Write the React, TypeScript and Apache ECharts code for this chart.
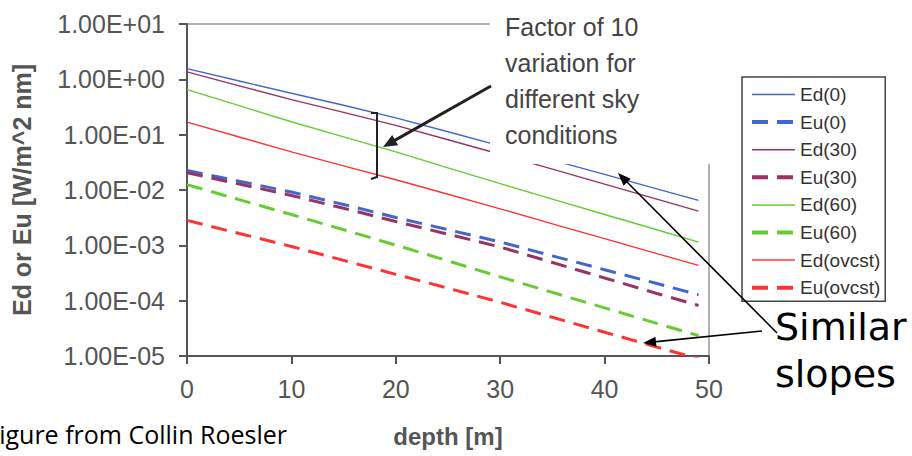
import React, { useEffect, useRef } from "react";
import * as echarts from "echarts";

const depths = [0, 5, 10, 15, 20, 25, 30, 35, 40, 45, 49];
const ed0 = [1.56, 0.935, 0.561, 0.34, 0.201, 0.113, 0.0628, 0.0346, 0.0191, 0.0105, 0.00649];
const eu0 = [0.0226, 0.0144, 0.0092, 0.00547, 0.00319, 0.00192, 0.00115, 0.000646, 0.000363, 0.000204, 0.000128];
const ed30 = [1.36, 0.762, 0.429, 0.253, 0.147, 0.0809, 0.0443, 0.0238, 0.0128, 0.00686, 0.00416];
const eu30 = [0.0205, 0.0128, 0.00798, 0.00467, 0.0027, 0.00159, 0.000933, 0.00049, 0.000257, 0.000135, 0.0000818];
const ed60 = [0.652, 0.334, 0.171, 0.0912, 0.0489, 0.0251, 0.013, 0.00686, 0.00361, 0.00191, 0.00114];
const eu60 = [0.0125, 0.0067, 0.0036, 0.00191, 0.00101, 0.000524, 0.000269, 0.000141, 0.0000741, 0.0000389, 0.0000234];
const edOv = [0.169, 0.0908, 0.0488, 0.0273, 0.0153, 0.00837, 0.00457, 0.00245, 0.00132, 0.000708, 0.000434];
const euOv = [0.00282, 0.00164, 0.000955, 0.000535, 0.000299, 0.000168, 0.0000933, 0.0000501, 0.0000269, 0.0000145, 0.0000089];

const seriesNames = ["Ed(0)", "Eu(0)", "Ed(30)", "Eu(30)", "Ed(60)", "Eu(60)", "Ed(ovcst)", "Eu(ovcst)"];
const seriesValues = [ed0, eu0, ed30, eu30, ed60, eu60, edOv, euOv];
const seriesColors = ["#4466cc", "#4466cc", "#993366", "#993366", "#66cc33", "#66cc33", "#ff3333", "#ff3333"];
const seriesDashed = [false, true, false, true, false, true, false, true];

const yTickLabels = ["1.00E-05", "1.00E-04", "1.00E-03", "1.00E-02", "1.00E-01", "1.00E+00", "1.00E+01"];
const xTicks = [0, 10, 20, 30, 40, 50];

const FONT = "'Liberation Sans', Arial, sans-serif";

function arrow(x1: number, y1: number, x2: number, y2: number, len: number, wid: number, lw: number, color: string) {
  const dx = x2 - x1;
  const dy = y2 - y1;
  const d = Math.sqrt(dx * dx + dy * dy);
  const ux = dx / d;
  const uy = dy / d;
  const bx = x2 - ux * len;
  const by = y2 - uy * len;
  const nx = -uy;
  const ny = ux;
  return [
    {
      type: "line",
      z: 60,
      shape: { x1, y1, x2: bx + ux * 2, y2: by + uy * 2 },
      style: { stroke: color, lineWidth: lw },
    },
    {
      type: "polygon",
      z: 60,
      shape: {
        points: [
          [x2, y2],
          [bx + (nx * wid) / 2, by + (ny * wid) / 2],
          [bx - (nx * wid) / 2, by - (ny * wid) / 2],
        ],
      },
      style: { fill: color },
    },
  ];
}

export default function App() {
  const ref = useRef<HTMLDivElement>(null);
  useEffect(() => {
    document.body.style.margin = "0";
    if (!ref.current) return;
    const chart = echarts.init(ref.current, undefined, { renderer: "svg" });
    const series = seriesNames.map((name, i) => ({
      name,
      type: "line",
      symbol: "none",
      data: depths.map((d, j) => [d, seriesValues[i][j]]),
      lineStyle: {
        color: seriesColors[i],
        width: seriesDashed[i] ? 3 : 1.4,
        type: seriesDashed[i] ? [16, 9] : "solid",
      },
      itemStyle: { color: seriesColors[i] },
      z: 2,
    }));
    const option = {
      animation: false,
      backgroundColor: "#ffffff",
      grid: {
        left: 187,
        right: 203,
        top: 24,
        bottom: 100,
        show: true,
        borderColor: "#999999",
        borderWidth: 1.5,
        backgroundColor: "transparent",
      },
      legend: {
        orient: "vertical",
        left: 742,
        top: 77,
        itemWidth: 43,
        itemHeight: 14,
        itemGap: 8.6,
        padding: [8, 5, 4, 8],
        borderColor: "#444444",
        borderWidth: 1.5,
        itemStyle: { opacity: 0 },
        textStyle: { fontSize: 19, color: "#333333", fontFamily: FONT },
        data: seriesNames.map((n, i) => ({
          name: n,
          itemStyle: { opacity: 0 },
          lineStyle: { width: seriesDashed[i] ? 4 : 1.5, type: seriesDashed[i] ? [16, 9] : "solid" },
        })),
      },
      xAxis: {
        type: "value",
        min: xTicks[0],
        max: xTicks[xTicks.length - 1],
        interval: 10,
        name: "depth [m]",
        nameLocation: "middle",
        nameGap: 68,
        nameTextStyle: { fontSize: 24, fontWeight: "bold", color: "#555555", fontFamily: FONT },
        axisLine: { show: true, lineStyle: { color: "#555555", width: 2 } },
        axisTick: { show: true, length: 8, inside: false, lineStyle: { color: "#555555", width: 2 } },
        axisLabel: { fontSize: 25, color: "#555555", margin: 20, fontFamily: FONT },
        splitLine: { show: false },
      },
      yAxis: {
        type: "log",
        logBase: 10,
        min: 1e-5,
        max: 10,
        name: "Ed or Eu [W/m^2 nm]",
        nameLocation: "middle",
        nameGap: 153,
        nameTextStyle: { fontSize: 25, fontWeight: "bold", color: "#555555", fontFamily: FONT },
        axisLine: { show: true, lineStyle: { color: "#555555", width: 2 } },
        axisTick: { show: true, length: 8, inside: false, lineStyle: { color: "#555555", width: 2 } },
        axisLabel: {
          fontSize: 25,
          color: "#555555",
          margin: 22,
          fontFamily: FONT,
          formatter: (v: number) => yTickLabels[Math.round(Math.log10(v)) + 5] ?? "",
        },
        splitLine: { show: false },
      },
      series,
      graphic: [
        { type: "rect", z: 50, shape: { x: 490, y: 0, width: 228, height: 164 }, style: { fill: "#ffffff" } },
        {
          type: "text",
          z: 60,
          x: 505,
          y: 9,
          style: {
            text: "Factor of 10\nvariation for\ndifferent sky\nconditions",
            fontSize: 25,
            lineHeight: 36,
            fill: "#444444",
            fontFamily: FONT,
          },
        },
        {
          type: "polyline",
          z: 60,
          shape: { points: [[371, 113], [377, 113], [377, 177], [371, 179]] },
          style: { stroke: "#222222", lineWidth: 2, fill: null },
        },
        ...arrow(491, 86, 383, 147, 14, 12, 3, "#222222"),
        ...arrow(777, 333, 618, 173, 13, 10, 1.6, "#000000"),
        ...arrow(762, 331, 643, 343, 13, 10, 1.6, "#000000"),
        {
          type: "text",
          z: 60,
          x: 775,
          y: 303,
          style: {
            text: "Similar\nslopes",
            fontSize: 38,
            lineHeight: 47,
            fill: "#000000",
            fontFamily: "'DejaVu Sans', sans-serif",
          },
        },
        {
          type: "text",
          z: 60,
          x: 287,
          y: 434,
          style: {
            text: "Figure from Collin Roesler",
            align: "right",
            verticalAlign: "middle",
            fontSize: 25,
            fill: "#000000",
            fontFamily: "'Open Sans', sans-serif",
          },
        },
      ],
    };
    chart.setOption(option as any);
    return () => chart.dispose();
  }, []);
  return <div ref={ref} style={{ width: 912, height: 456 }} />;
}
